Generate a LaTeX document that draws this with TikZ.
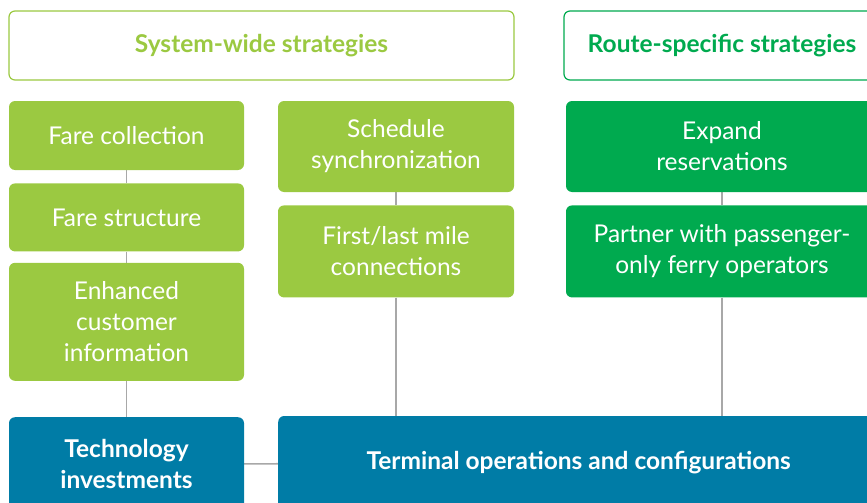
\documentclass[tikz,border=0pt]{standalone}
\usepackage{fontspec}
\setmainfont{Lato}
\usepackage{xcolor}
\usepackage{tikz}
\usetikzlibrary{positioning,backgrounds}

\definecolor{litegreen}{HTML}{9BC941}
\definecolor{darkgreen}{HTML}{00AA4F}
\definecolor{tealblue}{HTML}{007CA6}
\definecolor{linkgrey}{HTML}{A8A8A8}

\begin{document}
\begin{tikzpicture}[
    x=1pt, y=-1pt,
    box/.style={rectangle, rounded corners=6pt, inner sep=0pt, align=center, text=white,
        font=\fontsize{24.5}{31}\selectfont},
    headbox/.style={box, fill=white, line width=1.2pt, font=\bfseries\fontsize{24.5}{29}\selectfont},
    sysbox/.style={box, fill=litegreen, minimum width=235pt},
    routebox/.style={box, fill=darkgreen, minimum width=312pt},
    basebox/.style={box, fill=tealblue, minimum height=94pt, font=\bfseries\fontsize{24.5}{31}\selectfont},
    link/.style={draw=linkgrey, line width=1.6pt}
]
\useasboundingbox (0,0) rectangle (867,503);
\clip (0,0) rectangle (867,503);

% Header row
\node[headbox, draw=litegreen, text=litegreen, minimum width=505pt, minimum height=69pt] (system) at (261.5,45.5) {System-wide strategies};
\node[headbox, draw=darkgreen, text=darkgreen, minimum width=316pt, minimum height=69pt] (route) at (722,45.5) {Route-specific strategies};

% System-wide column 1
\node[sysbox, minimum height=69pt] (farecoll) at (126.5,135.5) {Fare collection};
\node[sysbox, minimum height=68pt, below=13pt of farecoll] (farestruct) {Fare structure};
\node[sysbox, minimum height=118pt, below=11pt of farestruct] (custinfo) {Enhanced\\customer\\information};

% System-wide column 2
\node[sysbox, minimum width=236pt, minimum height=91pt] (schedule) at (396,146.5) {Schedule\\synchronization};
\node[sysbox, minimum width=236pt, minimum height=92pt, below=13pt of schedule] (lastmile) {First/last mile\\connections};

% Route-specific column
\node[routebox, minimum height=91pt] (reserve) at (722,146.5) {Expand\\reservations};
\node[routebox, minimum height=92pt, below=13pt of reserve] (ferry) {Partner with passenger-\\only ferry operators};

% Base row
\node[basebox, minimum width=235pt, below=36pt of custinfo] (tech) {Technology\\investments};
\node[basebox, minimum width=601pt, anchor=west] (terminal) at (278,463) {Terminal operations and configurations};

% Connectors
\begin{scope}[on background layer]
\draw[link] (farecoll) -- (farestruct);
\draw[link] (farestruct) -- (custinfo);
\draw[link] (custinfo) -- (tech);
\draw[link] (schedule) -- (lastmile);
\draw[link] (lastmile.south) -- (lastmile.south |- terminal.north);
\draw[link] (reserve) -- (ferry);
\draw[link] (ferry.south) -- (ferry.south |- terminal.north);
\draw[link] (tech) -- (terminal);
\end{scope}

\end{tikzpicture}
\end{document}
